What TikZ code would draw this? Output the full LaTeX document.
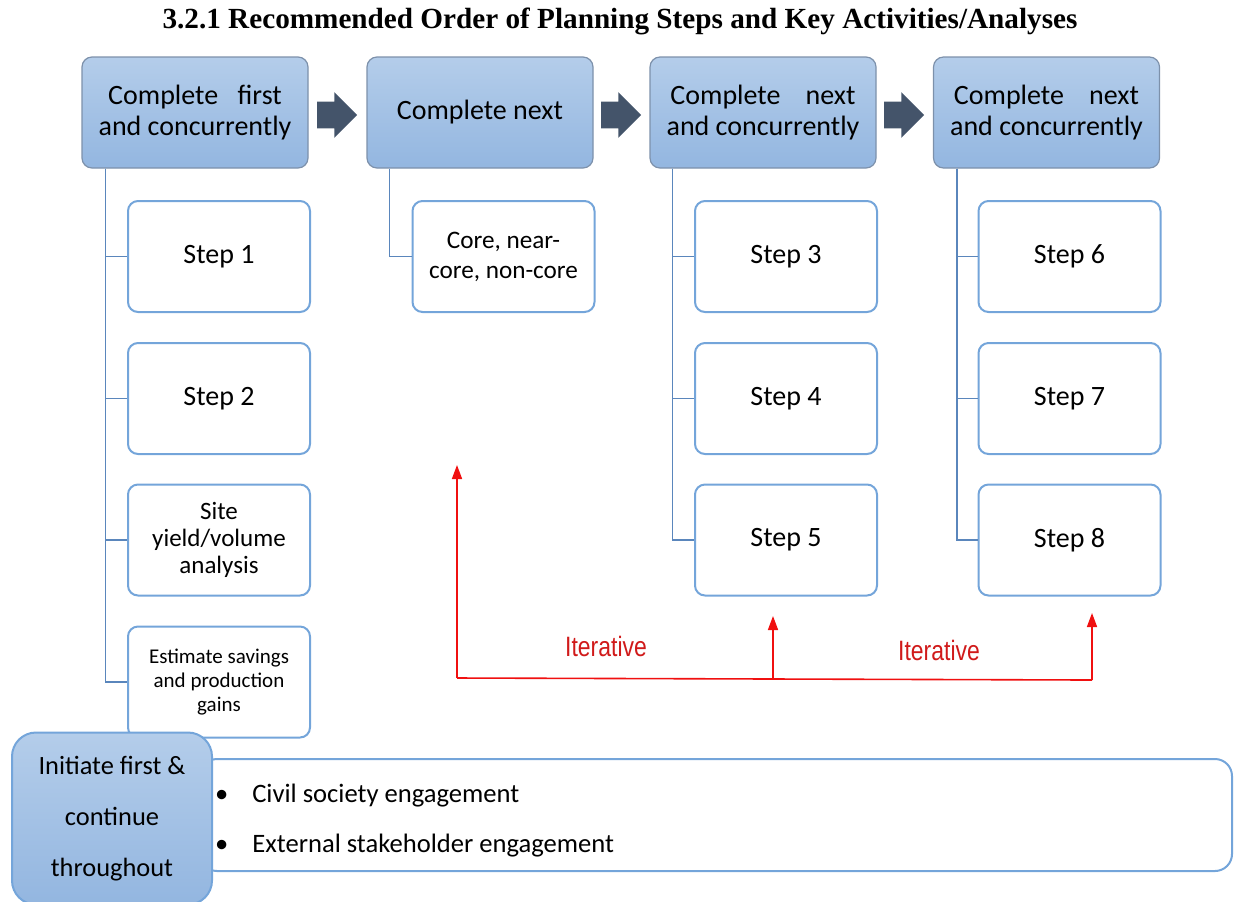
\documentclass[tikz,border=0pt]{standalone}
\usepackage{fontspec}
\setmainfont{Carlito}
\newfontfamily\titlefont{Liberation Serif}
\newfontfamily\iterfont{Liberation Sans}
\usetikzlibrary{shapes.arrows,arrows.meta}
\definecolor{hdrtop}{HTML}{B4CDEA}
\definecolor{hdrbot}{HTML}{93B6E0}
\definecolor{hdrline}{HTML}{7D91AB}
\definecolor{boxline}{HTML}{74A5DA}
\definecolor{treeline}{HTML}{5A86BC}
\definecolor{chevfill}{HTML}{44546A}
\definecolor{iterred}{HTML}{F01010}
\definecolor{itertext}{HTML}{D01A1A}
\newlength\hdrw
\newcommand\hdrlines[3][0.9]{\settowidth\hdrw{#3}\makebox[#1\hdrw][s]{#2}\\#3}

\begin{document}
\begin{tikzpicture}[x=0.5pt,y=-0.5pt,
  hdr/.style={draw=hdrline,line width=0.6pt,rounded corners=5pt,top color=hdrtop,bottom color=hdrbot,
    minimum width=113pt,minimum height=55.5pt,align=center,font=\fontsize{14}{15.5}\selectfont},
  stepbox/.style={draw=boxline,line width=1pt,fill=white,rounded corners=5pt,
    minimum width=91pt,minimum height=55.5pt,align=center,font=\fontsize{14}{16}\selectfont},
  chev/.style={single arrow,fill=chevfill,inner xsep=0pt,inner ysep=6.5pt,minimum height=20pt,single arrow head extend=4.75pt},
  tree/.style={draw=treeline,line width=0.9pt},
  iter/.style={draw=iterred,line width=0.8pt},
  up/.style={iter,-{Triangle[width=5pt,length=7pt]}},
  iterlbl/.style={text=itertext,font=\iterfont\fontsize{14}{14}\selectfont},
  initbox/.style={draw=boxline,line width=1pt,rounded corners=12pt,top color=hdrtop,bottom color=hdrbot,
    minimum width=100pt,minimum height=86pt,align=center,font=\fontsize{13.2}{25.5}\selectfont},
  listbox/.style={draw=boxline,line width=1pt,fill=white,rounded corners=8.5pt,minimum width=516pt,minimum height=56pt}]
\useasboundingbox (0,0) rectangle (1235,901);

\node[font=\titlefont\bfseries\fontsize{14.6}{14.6}\selectfont] (title) at (620,21) {3.2.1 Recommended Order of Planning Steps and Key Activities/Analyses};

\node[hdr] (h1) at (195,112.5) {\hdrlines{Complete first}{and concurrently}};
\node[hdr] (h2) at (480,112.5) {Complete next};
\node[hdr] (h3) at (763,112.5) {\hdrlines[0.96]{Complete next}{and concurrently}};
\node[hdr] (h4) at (1046.5,112.5) {\hdrlines[0.96]{Complete next}{and concurrently}};

\node[chev] (c1) at (330.5,115) {};
\node[chev] (c2) at (614.5,115) {};
\node[chev] (c3) at (897.5,115) {};

\node[stepbox] (s1) at (219,256.5) {Step 1};
\node[stepbox] (s2) at (219,398.5) {Step 2};
\node[stepbox,font=\fontsize{12.5}{13.5}\selectfont] (site) at (219,540) {Site\\yield/volume\\analysis};
\node[stepbox,font=\fontsize{10.5}{12}\selectfont] (est) at (219,682) {Estimate savings\\and production\\gains};
\node[stepbox,font=\fontsize{12.6}{15}\selectfont] (core) at (503.5,256.5) {Core, near-\\core, non-core};
\node[stepbox] (s3) at (786,256.5) {Step 3};
\node[stepbox] (s4) at (786,398.5) {Step 4};
\node[stepbox] (s5) at (786,540) {Step 5};
\node[stepbox] (s6) at (1069.5,256.5) {Step 6};
\node[stepbox] (s7) at (1069.5,398.5) {Step 7};
\node[stepbox] (s8) at (1069.5,540) {Step 8};

\coordinate (t1) at ([xshift=12pt]h1.south west);
\coordinate (t2) at ([xshift=11.5pt]h2.south west);
\coordinate (t3) at ([xshift=11.5pt]h3.south west);
\coordinate (t4) at ([xshift=12pt]h4.south west);
\draw[tree] (t1) |- (s1.west);
\draw[tree] (t1) |- (s2.west);
\draw[tree] (t1) |- (site.west);
\draw[tree] (t1) |- (est.west);
\draw[tree] (t2) |- (core.west);
\draw[tree] (t3) |- (s3.west);
\draw[tree] (t3) |- (s4.west);
\draw[tree] (t3) |- (s5.west);
\draw[tree] (t4) |- (s6.west);
\draw[tree] (t4) |- (s7.west);
\draw[tree] (t4) |- (s8.west);

\coordinate (r0) at (457,678);
\coordinate (r1) at (457,465);
\coordinate (r2) at (773,679);
\coordinate (r3) at (773,616);
\coordinate (r4) at (1092,680);
\coordinate (r5) at (1092,613);
\draw[iter] (r0) -- (r4);
\draw[up] (r0) -- (r1);
\draw[up] (r2) -- (r3);
\draw[up] (r4) -- (r5);
\node[iterlbl] (it1) at (606,646) {\scalebox{0.82}[1]{Iterative}};
\node[iterlbl] (it2) at (939,650) {\scalebox{0.82}[1]{Iterative}};

\node[listbox] (list) at (716,815) {};
\node[anchor=west,align=left,font=\fontsize{13.3}{16}\selectfont] (items) at (208,821)
  {\textbullet\hspace{12pt}Civil society engagement\\[9pt]\textbullet\hspace{12pt}External stakeholder engagement};
\node[initbox] (init) at (112,818.5) {Initiate first \&\\continue\\throughout};
\end{tikzpicture}
\end{document}
